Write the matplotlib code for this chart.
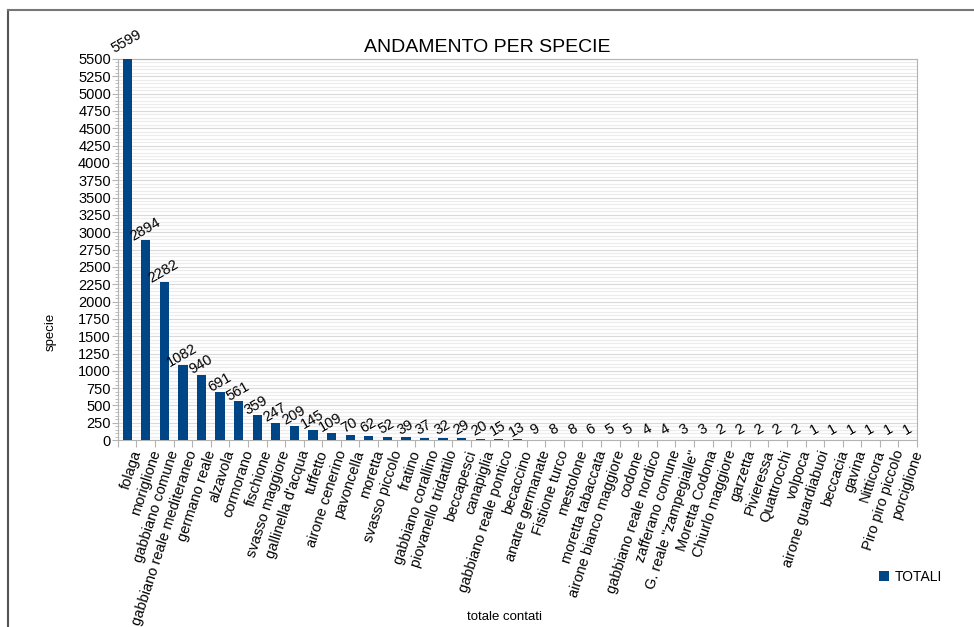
import matplotlib
matplotlib.use("Agg")
from matplotlib import pyplot as plt
from matplotlib.lines import Line2D
from matplotlib.ticker import MultipleLocator

plt.rcParams['font.family'] = ['Liberation Sans', 'DejaVu Sans']

specie = [
    "folaga", "moriglione", "gabbiano comune", "gabbiano reale mediteraneo",
    "germano reale", "alzavola", "cormorano", "fischione", "svasso maggiore",
    "gallinella d'acqua", "tuffetto", "airone cenerino", "pavoncella", "moretta",
    "svasso piccolo", "fratino", "gabbiano corallino", "piovanello tridattilo",
    "beccapesci", "canapiglia", "gabbiano reale pontico", "becaccino",
    "anatre germanate", "Fistione turco", "mestolone", "moretta tabaccata",
    "airone bianco maggiore", "codone", "gabbiano reale nordico",
    "zafferano comune", "G. reale \"zampegialle\"", "Moretta Codona",
    "Chiurlo maggiore", "garzetta", "Pivieressa", "Quattrocchi", "volpoca",
    "airone guardiabuoi", "beccacia", "gavina", "Nitticora",
    "Piro piro piccolo", "porciglione",
]
totali = [
    5599, 2894, 2282, 1082, 940, 691, 561, 359, 247, 209, 145, 109, 70, 62,
    52, 39, 37, 32, 29, 20, 15, 13, 9, 8, 8, 6, 5, 5, 4, 4, 3, 3, 2, 2, 2, 2,
    2, 1, 1, 1, 1, 1, 1,
]

blu = "#004586"

fig = plt.figure(figsize=(9.74, 6.27), dpi=100)
ax = fig.add_axes([0.121, 0.298, 0.8205, 0.608])

x = list(range(len(specie)))
ax.bar(x, totali, width=0.5, color=blu, label="TOTALI", zorder=3)

# value labels, rotated like the original
for xi, v in zip(x, totali):
    ax.annotate(str(v), (xi, v), xytext=(2, 3), textcoords="offset points",
                rotation=30, rotation_mode="anchor", ha="center", va="bottom",
                fontsize=10.5, annotation_clip=False)

ax.set_xlim(-0.5, len(specie) - 0.5)
ax.set_ylim(0, 5500)
ax.yaxis.set_major_locator(MultipleLocator(250))
ax.yaxis.set_minor_locator(MultipleLocator(50))
ax.grid(axis="y", which="major", color="#d9d9d9", linewidth=0.8, zorder=0)
ax.grid(axis="y", which="minor", color="#ececec", linewidth=0.8, zorder=0)

# category boundaries get the tick marks, labels sit a bit right of centre
ax.set_xticks([i - 0.5 for i in x] + [len(specie) - 0.5])
ax.set_xticklabels([])
ax.set_xticks([i + 0.2 for i in x], minor=True)
ax.set_xticklabels(specie, minor=True, rotation=72, ha="right",
                   rotation_mode="anchor", fontsize=10.5)
ax.tick_params(axis="x", which="minor", length=0, pad=6)
ax.tick_params(axis="x", which="major", length=5, color="#b3b3b3")
ax.tick_params(axis="y", which="major", length=4, color="#b3b3b3",
               labelsize=10.5, pad=1)
ax.tick_params(axis="y", which="minor", length=2, color="#b3b3b3")

for s in ax.spines.values():
    s.set_color("#b3b3b3")

fig.text(0.5, 0.925, "ANDAMENTO PER SPECIE", ha="center", va="center",
         fontsize=14)
fig.text(0.052, 0.47, "specie", rotation=90, ha="center", va="center",
         fontsize=9.5)
fig.text(0.518, 0.016, "totale contati", ha="center", va="center",
         fontsize=9.5)

fig.legend(loc="center", bbox_to_anchor=(0.935, 0.08), frameon=False,
           handlelength=0.7, handleheight=0.7, handletextpad=0.4, fontsize=10)

# frame of the original screenshot (left and top edges)
fig.add_artist(Line2D([0.0085, 0.0085], [0, 0.984], color="#555555", lw=1.5))
fig.add_artist(Line2D([0.0085, 1.0], [0.984, 0.984], color="#777777", lw=1.5))

fig.savefig("out.png", dpi=100)
